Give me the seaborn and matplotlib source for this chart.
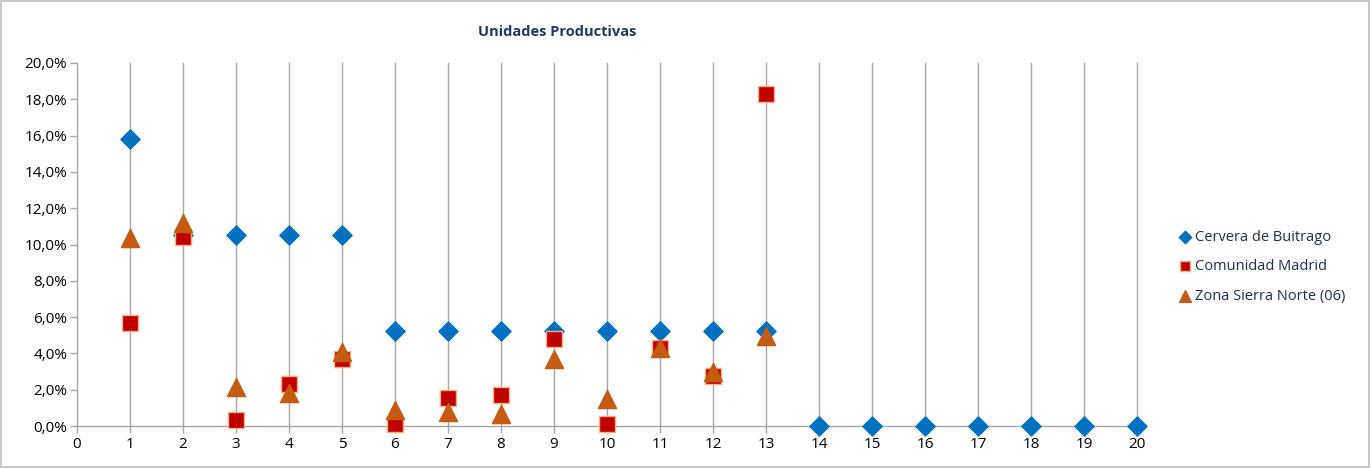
import matplotlib
matplotlib.use("Agg")
import matplotlib.pyplot as plt
import matplotlib.ticker as mticker
from matplotlib.patches import Rectangle
import seaborn as sns
import pandas as pd

x_vals = list(range(1, 21))
cervera = [15.8, 10.5, 10.5, 10.5, 10.5, 5.26, 5.26, 5.26, 5.26, 5.26,
           5.26, 5.26, 5.26, 0, 0, 0, 0, 0, 0, 0]
madrid = [5.7, 10.4, 0.33, 2.3, 3.7, 0.1, 1.55, 1.7, 4.8, 0.1, 4.3, 2.75, 18.3]
sierra = [10.35, 11.2, 2.15, 1.8, 4.1, 0.9, 0.75, 0.65, 3.7, 1.5, 4.3, 3.0, 4.95]

series = ["Cervera de Buitrago", "Comunidad Madrid", "Zona Sierra Norte (06)"]

df = pd.concat([
    pd.DataFrame({"x": x_vals, "y": cervera, "serie": series[0]}),
    pd.DataFrame({"x": x_vals[:len(madrid)], "y": madrid, "serie": series[1]}),
    pd.DataFrame({"x": x_vals[:len(sierra)], "y": sierra, "serie": series[2]}),
])
df["y"] = df["y"] / 100

sns.set_style("white")
plt.rcParams["font.family"] = ["Open Sans", "DejaVu Sans"]

fig = plt.figure(figsize=(13.72, 4.68), dpi=100)
ax = fig.add_axes([0.0561, 0.0897, 0.7726, 0.7757])

styles = {
    series[0]: dict(marker="D", color="#0070C0", edgecolor="#0070C0", s=95),
    series[1]: dict(marker="s", color="#C00000", edgecolor="#F4B183", s=120),
    series[2]: dict(marker="^", color="#C55A11", edgecolor="#C55A11", s=170),
}
for name in series:
    st = styles[name]
    sns.scatterplot(data=df[df["serie"] == name], x="x", y="y", ax=ax,
                    marker=st["marker"], color=st["color"], edgecolor=st["edgecolor"],
                    linewidth=1, s=st["s"], label=name, zorder=3, clip_on=False)

ax.set_xlim(0, 20)
ax.set_ylim(0, 0.20)
ax.set_xticks(range(0, 21))
ax.set_yticks([i / 100 for i in range(0, 21, 2)])
ax.yaxis.set_major_formatter(mticker.FuncFormatter(lambda v, p: f"{v*100:.1f}%".replace(".", ",")))
ax.set_xlabel("")
ax.set_ylabel("")
ax.grid(False)
for xv in range(1, 21):
    ax.axvline(xv, color="#A6A6A6", linewidth=1, zorder=1, clip_on=False)
for side in ["top", "right"]:
    ax.spines[side].set_visible(False)
for side in ["left", "bottom"]:
    ax.spines[side].set_color("#A6A6A6")
    ax.spines[side].set_linewidth(1)
ax.tick_params(axis="both", length=5, color="#A6A6A6", labelsize=11,
               labelcolor="#000000", direction="out", width=1)
ax.tick_params(axis="x", pad=3)
ax.tick_params(axis="y", pad=2, left=True)
ax.tick_params(axis="x", bottom=True)

fig.text(0.406, 0.932, "Unidades Productivas", ha="center", va="center",
         fontsize=10.5, fontweight="bold", color="#1F3864")

ax.get_legend().remove()
handles, labels = ax.get_legend_handles_labels()
leg = fig.legend(handles, labels, loc="center left", bbox_to_anchor=(0.848, 0.43),
                 frameon=False, fontsize=10.5, labelspacing=1.0, handletextpad=0.05,
                 handlelength=1.2, markerscale=0.65)
for t in leg.get_texts():
    t.set_color("#1F2D4F")

fig.patches.append(Rectangle((0.001, 0.002), 0.997, 0.995, transform=fig.transFigure,
                             fill=False, edgecolor="#BFBFBF", linewidth=1.2))

fig.savefig("out.png", dpi=100)
